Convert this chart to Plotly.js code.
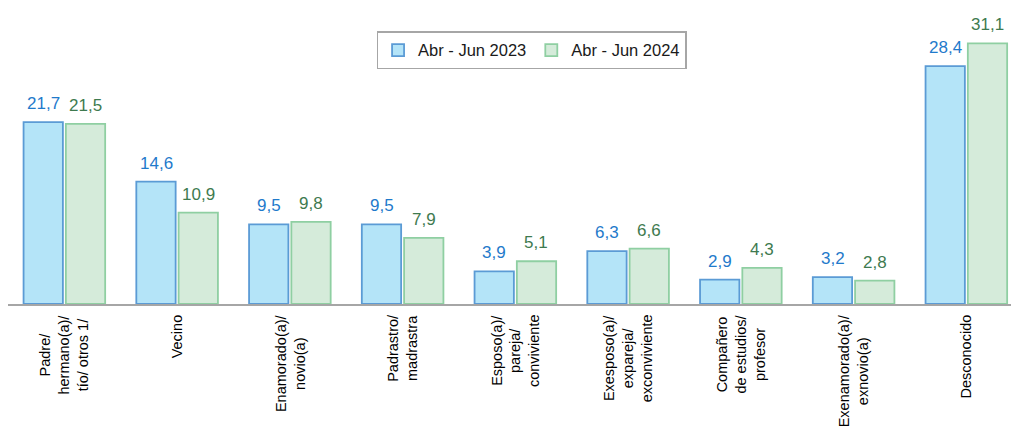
<!DOCTYPE html>
<html>
<head>
<meta charset="utf-8">
<script src="https://cdn.plot.ly/plotly-3.0.1.min.js"></script>
<style>
	html, body { margin: 0; padding: 0; background: white; }
	#chart { width: 1011px; height: 427px; }
</style>
</head>
<body>
<div id="chart"></div>
<script>
	// Categorias (etiquetas del eje x, con saltos de linea como en el original)
	var categorias = [
		"Padre/<br>hermano(a)/<br>tío/ otros 1/",
		"Vecino",
		"Enamorado(a)/<br>novio(a)",
		"Padrastro/<br>madrastra",
		"Esposo(a)/<br>pareja/<br>conviviente",
		"Exesposo(a)/<br>expareja/<br>exconviviente",
		"Compañero<br>de estudios/<br>profesor",
		"Exenamorado(a)/<br>exnovio(a)",
		"Desconocido"
	];
	var serie2023 = [21.7, 14.6, 9.5, 9.5, 3.9, 6.3, 2.9, 3.2, 28.4];
	var serie2024 = [21.5, 10.9, 9.8, 7.9, 5.1, 6.6, 4.3, 2.8, 31.1];
	var nombres = ["Abr - Jun 2023", "Abr - Jun 2024"];

	var idx = categorias.map(function (c, i) { return i; });

	function fmt(v) { return v.toFixed(1).replace(".", ","); }

	var data = [
		{
			type: 'bar',
			name: nombres[0],
			x: idx,
			y: serie2023,
			marker: { color: '#b4e4f8', line: { color: '#5b9bd5', width: 1.8 } },
			hoverinfo: 'none'
		},
		{
			type: 'bar',
			name: nombres[1],
			x: idx,
			y: serie2024,
			marker: { color: '#d5ebda', line: { color: '#8fcfa2', width: 1.8 } },
			hoverinfo: 'none'
		}
	];

	var annotations = [];
	// etiquetas de valores
	serie2023.forEach(function (v, i) {
		annotations.push({
			x: i, y: v, xref: 'x', yref: 'y',
			text: fmt(v), showarrow: false,
			xanchor: 'center', yanchor: 'bottom',
			xshift: -21, yshift: 7,
			font: { family: 'Liberation Sans, Arial, sans-serif', size: 17, color: '#1f7acb' }
		});
	});
	serie2024.forEach(function (v, i) {
		annotations.push({
			x: i, y: v, xref: 'x', yref: 'y',
			text: fmt(v), showarrow: false,
			xanchor: 'center', yanchor: 'bottom',
			xshift: 21, yshift: 7,
			font: { family: 'Liberation Sans, Arial, sans-serif', size: 17, color: '#3e7a4f' }
		});
	});
	// etiquetas del eje (giradas, centradas)
	categorias.forEach(function (c, i) {
		annotations.push({
			x: i, y: -0.027, xref: 'x', yref: 'paper',
			text: c, showarrow: false, textangle: -90,
			align: 'center', xanchor: 'center', yanchor: 'top',
			font: { family: 'Liberation Sans, Arial, sans-serif', size: 14.5, color: '#000000' }
		});
	});

	var layout = {
		width: 1011,
		height: 427,
		margin: { l: 8, r: 0, t: 0, b: 123, pad: 0 },
		paper_bgcolor: 'white',
		plot_bgcolor: 'white',
		barmode: 'group',
		bargap: 0.25,
		bargroupgap: 0.07,
		showlegend: true,
		legend: {
			orientation: 'h',
			x: 0.522, xanchor: 'center',
			y: 0.897, yanchor: 'top',
			bordercolor: '#a6a6a6',
			borderwidth: 1.5,
			font: { family: 'Liberation Sans, Arial, sans-serif', size: 16.5, color: '#1a1a1a' }
		},
		xaxis: {
			type: 'linear',
			range: [-0.5, 8.396],
			showticklabels: false,
			showgrid: false,
			zeroline: false,
			showline: true,
			linecolor: '#a6a6a6',
			linewidth: 1.5,
			ticks: '',
			fixedrange: true
		},
		yaxis: {
			range: [0, 36.28],
			showticklabels: false,
			showgrid: false,
			zeroline: false,
			showline: false,
			ticks: '',
			fixedrange: true
		},
		annotations: annotations
	};

	Plotly.newPlot('chart', data, layout, { displayModeBar: false, staticPlot: true });
</script>
</body>
</html>
